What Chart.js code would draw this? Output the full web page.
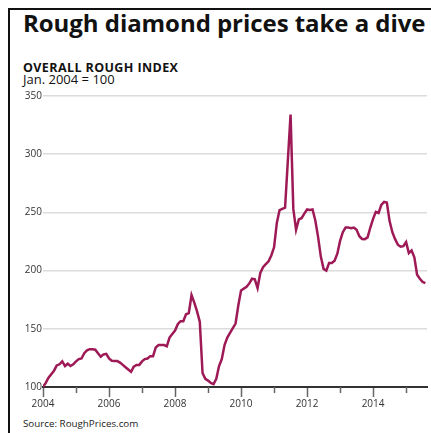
<!DOCTYPE html>
<html>
<head>
<meta charset="utf-8">
<script src="https://cdn.jsdelivr.net/npm/chart.js@4.4.1/dist/chart.umd.min.js"></script>
<style>
html, body { margin: 0; padding: 0; background: #fff; }
#wrap { position: relative; width: 431px; height: 433px; overflow: hidden; font-family: "Open Sans", Lato, sans-serif; }
#frame { position: absolute; left: 8px; top: 8px; width: 460px; height: 460px; border-left: 2px solid #111; border-top: 2px solid #111; }
.t { position: absolute; left: 23px; white-space: nowrap; color: #111; line-height: 1; }
#title { top: 10.5px; font-size: 24px; font-weight: 700; letter-spacing: -0.05px; }
#sub1 { top: 61.6px; font-size: 12.5px; font-weight: 700; letter-spacing: 0.4px; }
#sub2 { top: 72.6px; font-size: 13px; font-weight: 400; }
#source { top: 419px; font-size: 9.8px; color: #222; }
canvas { position: absolute; left: 0; top: 0; }
</style>
</head>
<body>
<div id="wrap">
  <div id="frame"></div>
  <div class="t" id="title">Rough diamond prices take a dive</div>
  <div class="t" id="sub1">OVERALL ROUGH INDEX</div>
  <div class="t" id="sub2">Jan. 2004 = 100</div>
  <div class="t" id="source">Source: RoughPrices.com</div>
  <canvas id="c" width="431" height="433"></canvas>
</div>
<script>
// Monthly index values (Jan. 2004 = 100), one array per year
const v2004 = [100, 103.5, 108, 111, 114, 118.5, 119.5, 122, 118, 120, 118, 119.5];
const v2005 = [122, 124, 124.5, 129, 131.5, 132.5, 132.5, 132, 129, 126, 128, 128.5];
const v2006 = [124.5, 122.5, 122.3, 122.3, 121, 119, 117, 115, 113, 117.5, 119, 119];
const v2007 = [122, 124, 124.5, 126.5, 126.5, 134, 136, 136, 136, 135, 142.5, 145.5];
const v2008 = [148.5, 154, 156.5, 156.5, 162.5, 163.5, 179, 172.5, 165, 156, 112, 107];
const v2009 = [105.5, 103.5, 102.5, 107, 118, 124, 136, 142.5, 146.5, 150.5, 154.5, 170];
const v2010 = [183, 184.5, 186, 189, 193, 192.5, 185, 198, 203, 205.5, 208, 213];
const v2011 = [220, 241, 252, 253, 254, 294, 334, 253, 235, 244, 245, 249];
const v2012 = [252.5, 252, 252.5, 243, 229, 212, 201.5, 200, 206.5, 206.5, 208.5, 214.5];
const v2013 = [225.5, 233, 237, 237, 236.5, 237, 235, 229.5, 227.2, 227, 228.5, 237];
const v2014 = [244.5, 250.5, 249.5, 256.5, 259, 258.5, 242.5, 233, 227, 222.3, 220.5, 221];
const v2015 = [224.5, 215, 217.3, 211.5, 196.5, 193, 190.3, 189.3];

const startYear = 2004;
const yearTicks = [2004, 2005, 2006, 2007, 2008, 2009, 2010, 2011, 2012, 2013, 2014, 2015];
const labeledYears = [2004, 2006, 2008, 2010, 2012, 2014];
const yTicks = [100, 150, 200, 250, 300, 350];

const values = [].concat(v2004, v2005, v2006, v2007, v2008, v2009, v2010, v2011, v2012, v2013, v2014, v2015);
const points = values.map((v, i) => ({ x: i, y: v }));

const minorTicks = {
  id: 'minorTicks',
  afterDraw(chart) {
    const xs = chart.scales.x;
    const c = chart.ctx;
    c.save();
    c.strokeStyle = '#666';
    c.lineWidth = 1.5;
    yearTicks.filter(y => !labeledYears.includes(y)).forEach(y => {
      const px = Math.round(xs.getPixelForValue((y - startYear) * 12)) + 0.5;
      c.beginPath();
      c.moveTo(px, chart.chartArea.bottom);
      c.lineTo(px, chart.chartArea.bottom + 6);
      c.stroke();
    });
    c.restore();
  }
};

new Chart(document.getElementById('c'), {
  type: 'line',
  data: {
    datasets: [{
      data: points,
      borderColor: '#9e1a57',
      borderWidth: 2.5,
      pointRadius: 0,
      tension: 0,
      fill: false
    }]
  },
  options: {
    responsive: false,
    animation: false,
    layout: { padding: { left: 0, right: 4, top: 96, bottom: 0 } },
    plugins: { legend: { display: false }, tooltip: { enabled: false }, title: { display: false } },
    scales: {
      x: {
        type: 'linear',
        min: 0,
        max: 139.6,
        afterBuildTicks: s => { s.ticks = yearTicks.map(y => ({ value: (y - startYear) * 12 })); },
        afterFit: s => { s.height = 46; },
        grid: {
          drawOnChartArea: false,
          drawTicks: true,
          tickLength: 10,
          tickWidth: 1.5,
          tickColor: ctx => labeledYears.includes(startYear + Math.round(ctx.tick.value / 12)) ? '#666' : 'rgba(0,0,0,0)'
        },
        border: { display: true, color: '#333', width: 2 },
        ticks: {
          autoSkip: false,
          maxRotation: 0,
          padding: 1,
          color: '#333',
          font: { family: 'Open Sans', size: 10 },
          callback: v => {
            const y = startYear + Math.round(v / 12);
            return labeledYears.includes(y) ? String(y) : '';
          }
        }
      },
      y: {
        min: 100,
        max: 350,
        afterBuildTicks: s => { s.ticks = yTicks.map(v => ({ value: v })); },
        afterFit: s => { s.width = 43; },
        grid: { color: '#dcdcdc', lineWidth: 1.5, drawTicks: false },
        border: { display: false },
        ticks: {
          padding: 1,
          color: '#333',
          font: { family: 'Open Sans', size: 10 }
        }
      }
    }
  },
  plugins: [minorTicks]
});
</script>
</body>
</html>
